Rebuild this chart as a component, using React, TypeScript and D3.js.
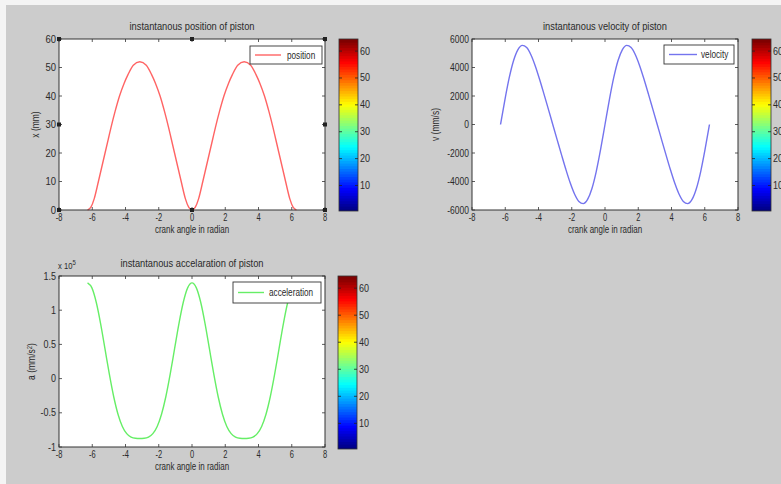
import React from 'react';
import * as d3 from 'd3';

// ---------- data ----------
const xTicks = [-8, -6, -4, -2, 0, 2, 4, 6, 8];

const positionAngle = [
  -6.28, -6.08, -5.88, -5.63, -5.43, -5.23, -5.03, -4.87, -4.63, -4.36, -4.08, -3.85, -3.53, -3.14,
  -2.75, -2.43, -2.2, -1.92, -1.65, -1.41, -1.25, -1.05, -0.85, -0.65, -0.4, -0.2, 0,
  0.2, 0.4, 0.65, 0.85, 1.05, 1.25, 1.41, 1.65, 1.92, 2.2, 2.43, 2.75, 3.14,
  3.53, 3.85, 4.08, 4.36, 4.63, 4.87, 5.03, 5.23, 5.43, 5.63, 5.88, 6.08, 6.28,
];
const positionValue = [
  0, 1, 4, 10, 15, 20, 25, 29, 34.5, 40, 44.5, 47.5, 50.8, 52,
  50.8, 47.5, 44.5, 40, 34.5, 29, 25, 20, 15, 10, 4, 1, 0,
  1, 4, 10, 15, 20, 25, 29, 34.5, 40, 44.5, 47.5, 50.8, 52,
  50.8, 47.5, 44.5, 40, 34.5, 29, 25, 20, 15, 10, 4, 1, 0,
];

const crankAngle = [
  -6.283, -6.021, -5.760, -5.498, -5.236, -4.974, -4.712, -4.451, -4.189, -3.927, -3.665, -3.403, -3.142,
  -2.880, -2.618, -2.356, -2.094, -1.833, -1.571, -1.309, -1.047, -0.785, -0.524, -0.262, 0,
  0.262, 0.524, 0.785, 1.047, 1.309, 1.571, 1.833, 2.094, 2.356, 2.618, 2.880, 3.142,
  3.403, 3.665, 3.927, 4.189, 4.451, 4.712, 4.974, 5.236, 5.498, 5.760, 6.021, 6.283,
];
const velocityValue = [
  0, 1735, 3285, 4493, 5261, 5553, 5400, 4878, 4092, 3143, 2115, 1060, 0,
  -1060, -2115, -3143, -4092, -4878, -5400, -5553, -5261, -4493, -3285, -1735, 0,
  1735, 3285, 4493, 5261, 5553, 5400, 4878, 4092, 3143, 2115, 1060, 0,
  -1060, -2115, -3143, -4092, -4878, -5400, -5553, -5261, -4493, -3285, -1735, 0,
];
// acceleration in units of 10^5 mm/s^2
const accelerationValue = [
  1.4, 1.326, 1.116, 0.805, 0.438, 0.068, -0.262, -0.521, -0.7, -0.805, -0.855, -0.873, -0.876,
  -0.873, -0.855, -0.805, -0.7, -0.521, -0.262, 0.068, 0.438, 0.805, 1.116, 1.326, 1.4,
  1.326, 1.116, 0.805, 0.438, 0.068, -0.262, -0.521, -0.7, -0.805, -0.855, -0.873, -0.876,
  -0.873, -0.855, -0.805, -0.7, -0.521, -0.262, 0.068, 0.438, 0.805, 1.116, 1.326, 1.4,
];

const positionTicks = [0, 10, 20, 30, 40, 50, 60];
const velocityTicks = [-6000, -4000, -2000, 0, 2000, 4000, 6000];
const accelerationTicks = [-1, -0.5, 0, 0.5, 1, 1.5];
const colorbarTicks = [10, 20, 30, 40, 50, 60];
const colorbarLevels = d3.range(1, 65);

const FONT = "'Liberation Sans', Arial, sans-serif";
const TXT = '#2a2a2a';

function jet(t: number) {
  const c = (v: number) => Math.max(0, Math.min(1, v));
  const r = c(1.5 - Math.abs(4 * t - 3));
  const g = c(1.5 - Math.abs(4 * t - 2));
  const b = c(1.5 - Math.abs(4 * t - 1));
  return d3.rgb(r * 255, g * 255, b * 255).toString();
}

// condensed text helper
function T({ x, y, s = 1, anchor = 'start', size = 10, rotate = 0, children }:
  { x: number; y: number; s?: number; anchor?: string; size?: number; rotate?: number; children: React.ReactNode }) {
  return (
    <text transform={`translate(${x},${y}) rotate(${rotate}) scale(${s},1)`} textAnchor={anchor}
      fontSize={size} fill={TXT} fontFamily={FONT}>{children}</text>
  );
}

function Colorbar({ x0, y0, w, h }: { x0: number; y0: number; w: number; h: number }) {
  const s = d3.scaleLinear().domain([0.5, 64.5]).range([y0 + h, y0]);
  return (
    <g>
      {colorbarLevels.map((i) => (
        <rect key={i} x={x0} y={s(i + 0.5)} width={w} height={s(i - 0.5) - s(i + 0.5) + (i > 1 ? 1 : 0)}
          fill={jet((i - 1) / 63)} />
      ))}
      <rect x={x0} y={y0} width={w} height={h} fill="none" stroke="#333" strokeWidth={0.8} />
      {colorbarTicks.map((t) => (
        <g key={t}>
          <line x1={x0} x2={x0 + 3} y1={s(t)} y2={s(t)} stroke="#222" strokeWidth={0.8} />
          <line x1={x0 + w} x2={x0 + w - 3} y1={s(t)} y2={s(t)} stroke="#222" strokeWidth={0.8} />
          <T x={x0 + w + 2} y={s(t) + 3.5} s={0.9}>{t}</T>
        </g>
      ))}
    </g>
  );
}

type PanelProps = {
  left: number; right: number; top: number; bottom: number;
  yDomain: [number, number]; yTicks: number[]; yTickScale: number;
  xs: number[]; ys: number[]; color: string;
  title: string; ylabel: React.ReactNode; ylabelX: number;
  legend: string; legendBox: [number, number, number, number]; legendLine: [number, number]; legendTextX: number;
  handles?: boolean; exponent?: boolean;
};

function Panel(p: PanelProps) {
  const x = d3.scaleLinear().domain([-8, 8]).range([p.left, p.right]);
  const y = d3.scaleLinear().domain(p.yDomain).range([p.bottom, p.top]);
  const pts = p.xs.map((a, i) => [a, p.ys[i]] as [number, number]);
  const path = d3.line<[number, number]>().x((d) => x(d[0])).y((d) => y(d[1])).curve(d3.curveMonotoneX)(pts) || '';
  const [lx, ly, lw, lh] = p.legendBox;
  const cx = (p.left + p.right) / 2;
  const cy = (p.top + p.bottom) / 2;
  const handlePts: [number, number][] = [
    [p.left, p.top], [cx, p.top], [p.right, p.top],
    [p.left, cy], [p.right, cy],
    [p.left, p.bottom], [cx, p.bottom], [p.right, p.bottom],
  ];
  return (
    <g fontFamily={FONT}>
      <rect x={p.left} y={p.top} width={p.right - p.left} height={p.bottom - p.top} fill="#fff" />
      <path d={path} fill="none" stroke={p.color} strokeWidth={1.4} />
      <rect x={lx} y={ly} width={lw} height={lh} fill="#fff" stroke="#333" strokeWidth={0.9} />
      <line x1={p.legendLine[0]} x2={p.legendLine[1]} y1={ly + lh / 2} y2={ly + lh / 2} stroke={p.color} strokeWidth={1.4} />
      <T x={p.legendTextX} y={ly + lh / 2 + 3.5} s={0.82}>{p.legend}</T>
      <rect x={p.left} y={p.top} width={p.right - p.left} height={p.bottom - p.top} fill="none" stroke="#333" strokeWidth={1} />
      {xTicks.map((t) => (
        <g key={'x' + t}>
          <line x1={x(t)} x2={x(t)} y1={p.bottom} y2={p.bottom - 3} stroke="#333" strokeWidth={0.8} />
          <line x1={x(t)} x2={x(t)} y1={p.top} y2={p.top + 3} stroke="#333" strokeWidth={0.8} />
          <T x={x(t)} y={p.bottom + 11} anchor="middle" s={0.75}>{t}</T>
        </g>
      ))}
      {p.yTicks.map((t) => (
        <g key={'y' + t}>
          <line x1={p.left} x2={p.left + 3} y1={y(t)} y2={y(t)} stroke="#333" strokeWidth={0.8} />
          <line x1={p.right} x2={p.right - 3} y1={y(t)} y2={y(t)} stroke="#333" strokeWidth={0.8} />
          <T x={p.left - 3} y={y(t) + 3.5} anchor="end" s={p.yTickScale}>{t}</T>
        </g>
      ))}
      {p.handles && handlePts.map(([hx, hy], i) => (
        <rect key={'h' + i} x={hx - 2} y={hy - 2} width={4} height={4} fill="#222" />
      ))}
      <T x={cx} y={p.top - 9} anchor="middle" s={0.93}>{p.title}</T>
      <T x={cx} y={p.bottom + 23} anchor="middle" s={0.8}>crank angle in radian</T>
      <T x={p.ylabelX} y={cy} anchor="middle" s={0.85} rotate={-90}>{p.ylabel}</T>
      {p.exponent && (
        <T x={p.left - 1} y={p.top - 7} size={9} s={0.85}>
          x 10<tspan dy={-4} fontSize={7}>5</tspan>
        </T>
      )}
    </g>
  );
}

export default function App() {
  return (
    <div style={{ position: 'absolute', left: 0, top: 0 }}>
      <svg width={781} height={484} style={{ display: 'block' }}>
        <rect x={0} y={0} width={781} height={484} fill="#f4f4f4" />
        <rect x={6} y={5} width={775} height={479} fill="#cccccc" />
        <Panel left={59} right={325} top={39} bottom={210} yDomain={[0, 60]} yTicks={positionTicks} yTickScale={0.95}
          xs={positionAngle} ys={positionValue} color="#ff6464"
          title="instantanous position of piston" ylabel="x  (mm)" ylabelX={39}
          legend="position" legendBox={[250, 46, 72, 18]} legendLine={[255, 281]} legendTextX={287} handles />
        <Colorbar x0={339} y0={39} w={19} h={172} />
        <Panel left={472} right={738} top={39} bottom={210} yDomain={[-6000, 6000]} yTicks={velocityTicks} yTickScale={0.85}
          xs={crankAngle} ys={velocityValue} color="#7474ee"
          title="instantanous velocity of piston" ylabel="v  (mm/s)" ylabelX={439}
          legend="velocity" legendBox={[664, 45, 70, 19]} legendLine={[669, 697]} legendTextX={701} />
        <Colorbar x0={752} y0={39} w={19} h={172} />
        <Panel left={59} right={325} top={276} bottom={447} yDomain={[-1, 1.5]} yTicks={accelerationTicks} yTickScale={0.9}
          xs={crankAngle} ys={accelerationValue} color="#66ee66"
          title="instantanous accelaration of piston"
          ylabel={<>a (mm/s<tspan dy={-3} fontSize={7}>2</tspan><tspan dy={3}>)</tspan></>} ylabelX={35}
          legend="acceleration" legendBox={[233, 282, 88, 21]} legendLine={[238, 264]} legendTextX={269} exponent />
        <Colorbar x0={338} y0={276} w={19} h={173} />
      </svg>
    </div>
  );
}
